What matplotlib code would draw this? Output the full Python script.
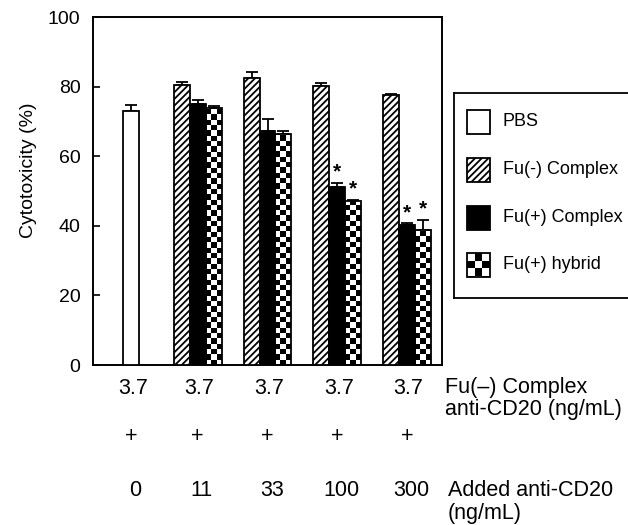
import matplotlib
matplotlib.use("Agg")
import matplotlib.pyplot as plt
import matplotlib.transforms as mtransforms
from matplotlib.patches import Rectangle
import numpy as np

plt.rcParams['font.family'] = ['Liberation Sans', 'DejaVu Sans']
plt.rcParams['hatch.linewidth'] = 1.3

# data
pbs_val = 73.0
pbs_err = 1.7
fu_minus = [80.5, 82.6, 80.3, 77.6]
fu_minus_err = [0.7, 1.6, 0.8, 0.3]
fu_plus = [74.9, 67.3, 51.2, 40.1]
fu_plus_err = [1.2, 3.3, 1.2, 0.6]
hybrid = [73.8, 66.5, 47.0, 38.8]
hybrid_err = [0.6, 0.6, 0.5, 2.9]
significant = [False, False, True, True]

fu_minus_dose = ['3.7', '3.7', '3.7', '3.7', '3.7']
plus_row = ['+', '+', '+', '+', '+']
added_dose = ['0', '11', '33', '100', '300']
legend_labels = ['PBS', 'Fu(-) Complex', 'Fu(+) Complex', 'Fu(+) hybrid']

W, H = 628, 525
fig = plt.figure(figsize=(W/100, H/100), dpi=100)
ax = fig.add_axes([93/W, 1-365/H, (442-93)/W, (365-17)/H])

groups = np.arange(1, 5)
bw = 0.229
pbs_x = 0.05
HATCH = '/////'

ax.set_xlim(-0.5, 4.5)
ax.set_ylim(0, 100)

px_x = (442-93)/5.0
px_y = (365-17)/100.0

def checker(a, rect, ncol=3, aspect=1.0, z=2):
    x0, y0 = rect.get_x(), rect.get_y()
    w, h = rect.get_width(), rect.get_height()
    cw = w/ncol
    ch = cw*aspect
    nrow = int(np.ceil(h/ch)) + 1
    grid = np.indices((nrow, ncol)).sum(0) % 2
    im = a.imshow(grid, cmap='gray_r', extent=(x0, x0+w, y0, y0+nrow*ch),
                  origin='lower', aspect='auto', interpolation='nearest', zorder=z)
    im.set_clip_path(rect)

# PBS
ax.bar(pbs_x, pbs_val, bw, color='white', edgecolor='black', linewidth=1.3, zorder=3)
ax.errorbar(pbs_x, pbs_val, yerr=[[0], [pbs_err]], fmt='none', ecolor='black',
            elinewidth=1.3, capsize=4, capthick=1.3, zorder=2)

# Fu(-) complex
ax.bar(groups-bw, fu_minus, bw, color='white', edgecolor='black', hatch=HATCH,
       linewidth=1.3, zorder=3)
# Fu(+) complex
ax.bar(groups, fu_plus, bw, color='black', edgecolor='black', linewidth=1.3, zorder=3)
# Fu(+) hybrid
hb = ax.bar(groups+bw, hybrid, bw, color='white', edgecolor='none', zorder=2)
for r in hb:
    checker(ax, r, aspect=px_x/px_y, z=2.5)
ax.bar(groups+bw, hybrid, bw, fill=False, edgecolor='black', linewidth=1.3, zorder=3)

for xs, v, e in [(groups-bw, fu_minus, fu_minus_err), (groups, fu_plus, fu_plus_err),
                 (groups+bw, hybrid, hybrid_err)]:
    ax.errorbar(xs, v, yerr=[np.zeros(len(e)), e], fmt='none', ecolor='black',
                elinewidth=1.3, capsize=4, capthick=1.3, zorder=2)

for i, s in enumerate(significant):
    if s:
        for xs, v, e in [(groups[i], fu_plus[i], fu_plus_err[i]),
                         (groups[i]+bw, hybrid[i], hybrid_err[i])]:
            ax.annotate('*', (xs, v+e), xytext=(0, 1), textcoords='offset points',
                        ha='center', va='bottom', fontsize=15, fontweight='bold')

ax.set_xlim(-0.5, 4.5)
ax.set_ylim(0, 100)
ax.set_xticks([])
ax.set_yticks(np.arange(0, 101, 20))
ax.tick_params(axis='y', direction='in', length=5, width=1.2, labelsize=14, pad=9)
for sp in ax.spines.values():
    sp.set_linewidth(1.4)
ax.set_ylabel('Cytotoxicity (%)', fontsize=14)
ax.yaxis.set_label_coords(-0.16, 0.56)

# table below the axis
tr = mtransforms.blended_transform_factory(ax.transData, fig.transFigure)
cols = np.concatenate([[pbs_x], groups])
for xs, t in zip(cols, fu_minus_dose):
    ax.text(xs+0.02, 1-388/H, t, transform=tr, ha='center', va='center', fontsize=15.5)
for xs, t in zip(cols, plus_row):
    ax.text(xs, 1-436/H, t, transform=tr, ha='center', va='center', fontsize=15.5)
for xs, t in zip(cols, added_dose):
    ax.text(xs+0.06, 1-490/H, t, transform=tr, ha='center', va='center', fontsize=15.5)
fig.text(445/W, 1-387/H, 'Fu(–) Complex', ha='left', va='center', fontsize=15.5)
fig.text(445/W, 1-410/H, 'anti-CD20 (ng/mL)', ha='left', va='center', fontsize=15.5)
fig.text(448/W, 1-490/H, 'Added anti-CD20', ha='left', va='center', fontsize=15.5)
fig.text(448/W, 1-513/H, '(ng/mL)', ha='left', va='center', fontsize=15.5)

# legend box
lg = fig.add_axes([454/W, 1-298/H, 0.4, (298-93)/H])
lg.set_xticks([])
lg.set_yticks([])
for sp in lg.spines.values():
    sp.set_linewidth(1.3)
rows = [122, 170, 218, 265]
styles = [dict(facecolor='white'), dict(facecolor='white', hatch='/////'),
          dict(facecolor='black'), None]
for yc, lab, st in zip(rows, legend_labels, styles):
    if st is None:
        r = Rectangle((467, yc-12), 23, 24, facecolor='white', edgecolor='none')
        lg.add_patch(r)
        checker(lg, r, ncol=3, aspect=1.0, z=2.5)
        lg.add_patch(Rectangle((467, yc-12), 23, 24, fill=False, edgecolor='black',
                               linewidth=1.3, zorder=3))
    else:
        lg.add_patch(Rectangle((467, yc-12), 23, 24, edgecolor='black', linewidth=1.3,
                               zorder=3, **st))
    lg.text(503, yc, lab, ha='left', va='center', fontsize=13)
lg.set_xlim(454, 454+0.4*W)
lg.set_ylim(298, 93)

fig.savefig('out.png', dpi=100)
